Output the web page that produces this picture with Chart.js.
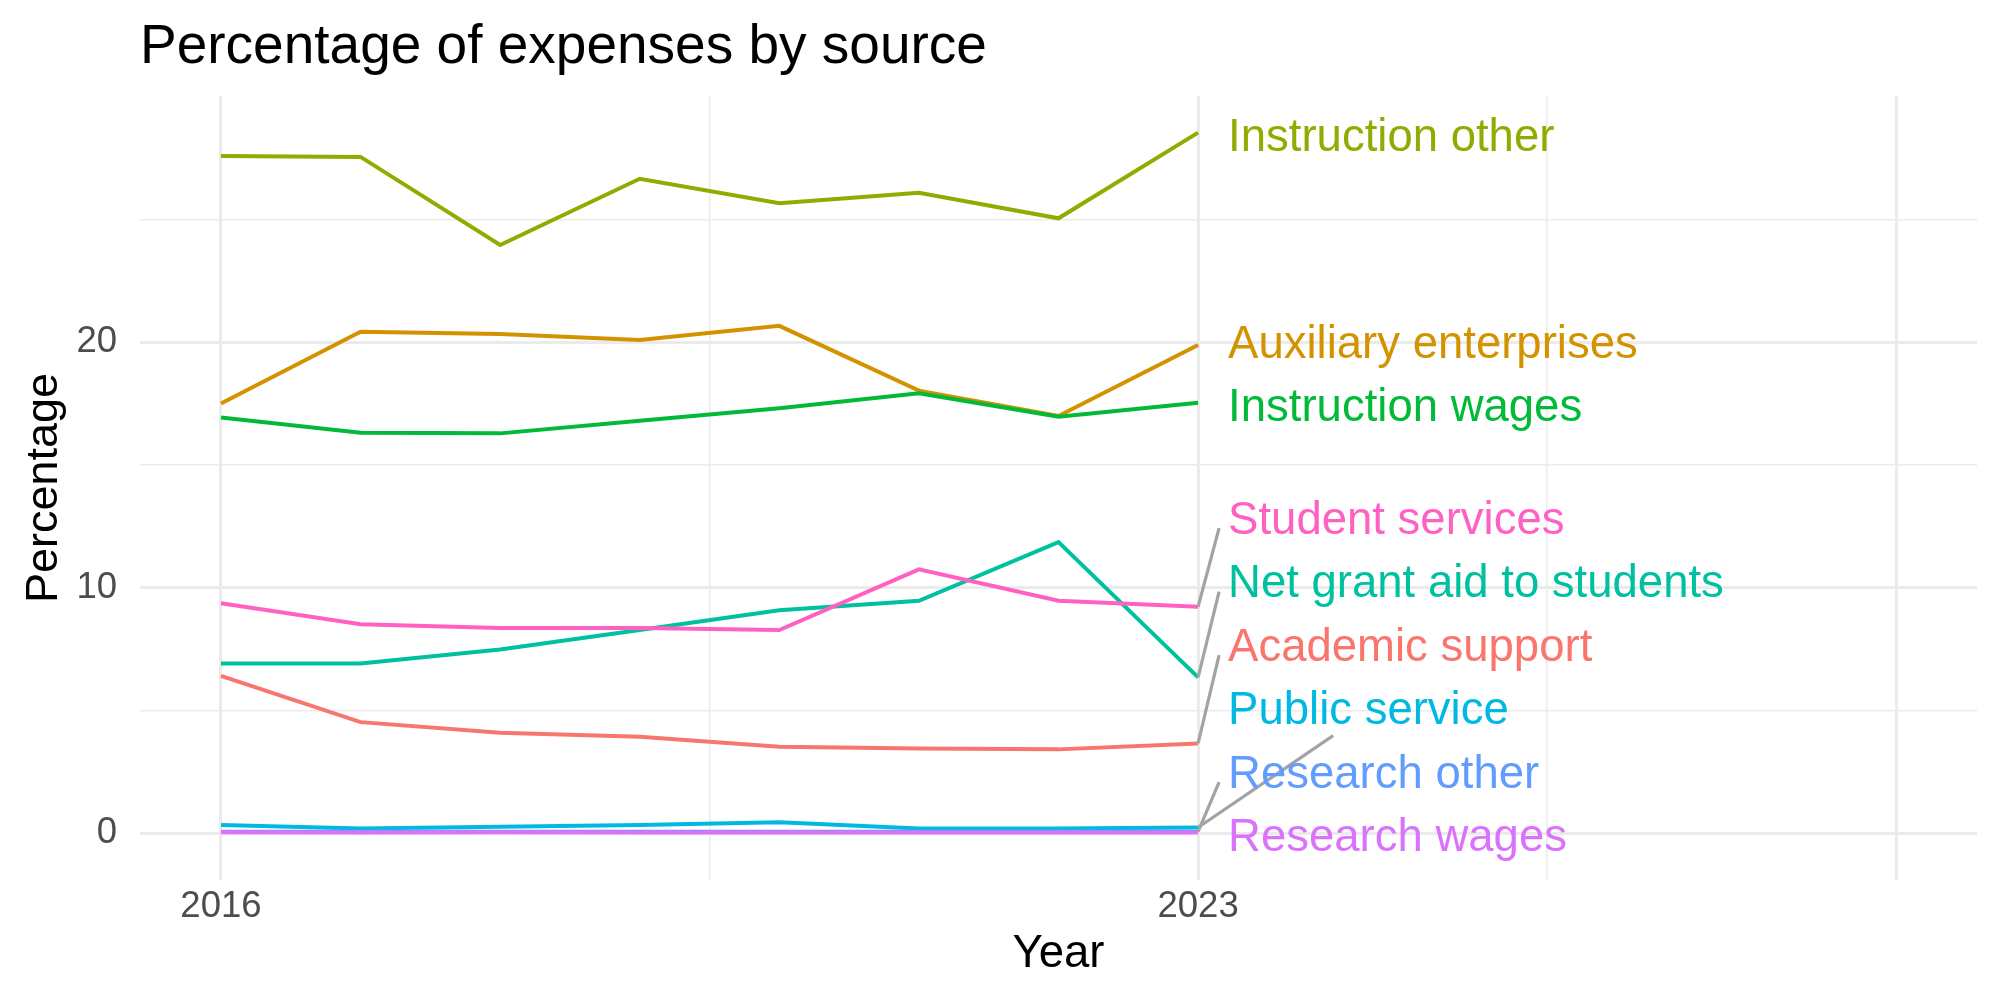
<!DOCTYPE html>
<html>
<head>
<meta charset="utf-8">
<script src="https://cdn.jsdelivr.net/npm/chart.js@4"></script>
<style>
html,body{margin:0;padding:0;background:#ffffff;}
#wrap{width:2000px;height:1000px;}
</style>
</head>
<body>
<div id="wrap"><canvas id="c" width="2000" height="1000"></canvas></div>
<script>
// ---- data ----
const years = [2016, 2017, 2018, 2019, 2020, 2021, 2022, 2023];

const academicSupport      = [6.40, 4.52, 4.09, 3.92, 3.52, 3.45, 3.41, 3.65];
const auxiliaryEnterprises = [17.50, 20.42, 20.33, 20.08, 20.66, 18.02, 16.99, 19.88];
const instructionOther     = [27.58, 27.54, 23.95, 26.65, 25.65, 26.08, 25.04, 28.53];
const instructionWages     = [16.93, 16.31, 16.28, 16.79, 17.30, 17.91, 16.96, 17.53];
const netGrantAid          = [6.91, 6.91, 7.48, 8.27, 9.08, 9.46, 11.85, 6.34];
const publicService        = [0.33, 0.19, 0.26, 0.33, 0.44, 0.19, 0.19, 0.23];
const researchOther        = [0.06, 0.05, 0.05, 0.05, 0.05, 0.05, 0.05, 0.06];
const researchWages        = [0.03, 0.02, 0.03, 0.02, 0.02, 0.02, 0.02, 0.02];
const studentServices      = [9.36, 8.51, 8.35, 8.35, 8.27, 10.74, 9.46, 9.22];

const seriesNames = ["Academic support", "Auxiliary enterprises", "Instruction other",
  "Instruction wages", "Net grant aid to students", "Public service",
  "Research other", "Research wages", "Student services"];
const seriesValues = [academicSupport, auxiliaryEnterprises, instructionOther,
  instructionWages, netGrantAid, publicService, researchOther, researchWages, studentServices];
const seriesColors = ["#F8766D", "#D39200", "#93AA00", "#00BA38", "#00C19F",
  "#00B9E3", "#619CFF", "#DB72FB", "#FF61C3"];

const xTickValues = [2016, 2019.5, 2023, 2025.5, 2028];
const xTickLabels = ["2016", "", "2023", "", ""];
const xTickMajor  = [true, false, true, false, true];
const yTickValues = [0, 5, 10, 15, 20, 25];
const yTickLabels = ["0", "", "10", "", "20", ""];
const yTickMajor  = [true, false, true, false, true, false];

const FONT = '"Liberation Sans", Arial, Helvetica, sans-serif';

// ---- repelled end labels (ggrepel-like) ----
const repelLabels = {
  id: 'repelLabels',
  afterDatasetsDraw(chart) {
    const {ctx} = chart;
    const xs = chart.scales.x, ys = chart.scales.y;
    const last = years.length - 1;
    const px = xs.getPixelForValue(years[last]);
    const items = seriesNames.map((name, i) => ({
      name, color: seriesColors[i], py: ys.getPixelForValue(seriesValues[i][last])
    }));
    const gap = 63.5;
    const sorted = items.slice().sort((a, b) => b.py - a.py);
    let prev = Infinity;
    sorted.forEach(it => {
      it.ly = Math.min(it.py + 6, prev - gap);
      prev = it.ly;
    });
    ctx.save();
    ctx.font = '45.5px ' + FONT;
    ctx.textBaseline = 'middle';
    ctx.textAlign = 'left';
    const tx = px + 30;
    // segments
    ctx.strokeStyle = '#A3A3A3';
    ctx.lineWidth = 3.2;
    ctx.lineCap = 'butt';
    items.forEach(it => {
      const dy = it.py - it.ly;
      if (Math.abs(dy) < 20) return;
      const w = ctx.measureText(it.name).width;
      let ex, ey;
      if (dy > 100) {
        const cx = tx + w / 2, cy = it.ly;
        const bottom = it.ly + 24;
        const t = (it.py - bottom) / (it.py - cy);
        ex = px + (cx - px) * t;
        ey = bottom;
      } else {
        ex = tx - 9;
        ey = it.ly + 7;
      }
      ctx.beginPath();
      ctx.moveTo(px, it.py);
      ctx.lineTo(ex, ey);
      ctx.stroke();
    });
    // text
    items.forEach(it => {
      ctx.fillStyle = it.color;
      ctx.fillText(it.name, tx, it.ly);
    });
    ctx.restore();
  }
};

const n = seriesNames.length;
const datasets = seriesNames.map((name, i) => ({
  label: name,
  data: years.map((yr, j) => ({x: yr, y: seriesValues[i][j]})),
  borderColor: seriesColors[i],
  backgroundColor: seriesColors[i],
  borderWidth: 4,
  pointRadius: 0,
  pointHoverRadius: 0,
  tension: 0,
  fill: false,
  order: n - i
}));

new Chart(document.getElementById('c'), {
  type: 'line',
  data: {datasets},
  plugins: [repelLabels],
  options: {
    responsive: false,
    animation: false,
    devicePixelRatio: 1,
    layout: {padding: {left: 0, right: 23, top: 0, bottom: 0}},
    plugins: {
      legend: {display: false},
      tooltip: {enabled: false},
      title: {
        display: true,
        text: 'Percentage of expenses by source',
        align: 'start',
        fullSize: false,
        color: '#000000',
        font: {family: FONT, size: 55, weight: 'normal', lineHeight: 1.2},
        padding: {top: 15, bottom: 15}
      }
    },
    scales: {
      x: {
        type: 'linear',
        min: 2015.42,
        max: 2028.58,
        afterBuildTicks: s => { s.ticks = xTickValues.map(v => ({value: v})); },
        afterFit: s => { s.height = 120; },
        ticks: {
          autoSkip: false,
          maxRotation: 0,
          padding: 5,
          color: '#4D4D4D',
          font: {family: FONT, size: 36.5, lineHeight: 1.2},
          callback: (v, i) => xTickLabels[i]
        },
        grid: {
          color: '#EBEBEB',
          lineWidth: c => (xTickMajor[c.index] ? 3 : 1.5),
          drawTicks: false
        },
        border: {display: false},
        title: {
          display: true,
          text: 'Year',
          color: '#000000',
          font: {family: FONT, size: 45.5, lineHeight: 1.2},
          padding: {top: 0, bottom: 18}
        }
      },
      y: {
        type: 'linear',
        min: -1.91,
        max: 30.02,
        afterBuildTicks: s => { s.ticks = yTickValues.map(v => ({value: v})); },
        afterFit: s => { s.width = 140; },
        ticks: {
          autoSkip: false,
          padding: 23,
          color: '#4D4D4D',
          font: {family: FONT, size: 36.5, lineHeight: 1.2},
          callback: (v, i) => yTickLabels[i]
        },
        grid: {
          color: '#EBEBEB',
          lineWidth: c => (yTickMajor[c.index] ? 3 : 1.5),
          drawTicks: false
        },
        border: {display: false},
        title: {
          display: true,
          text: 'Percentage',
          color: '#000000',
          font: {family: FONT, size: 45, lineHeight: 1.2},
          padding: {top: 18, bottom: 0}
        }
      }
    }
  }
});
</script>
</body>
</html>
